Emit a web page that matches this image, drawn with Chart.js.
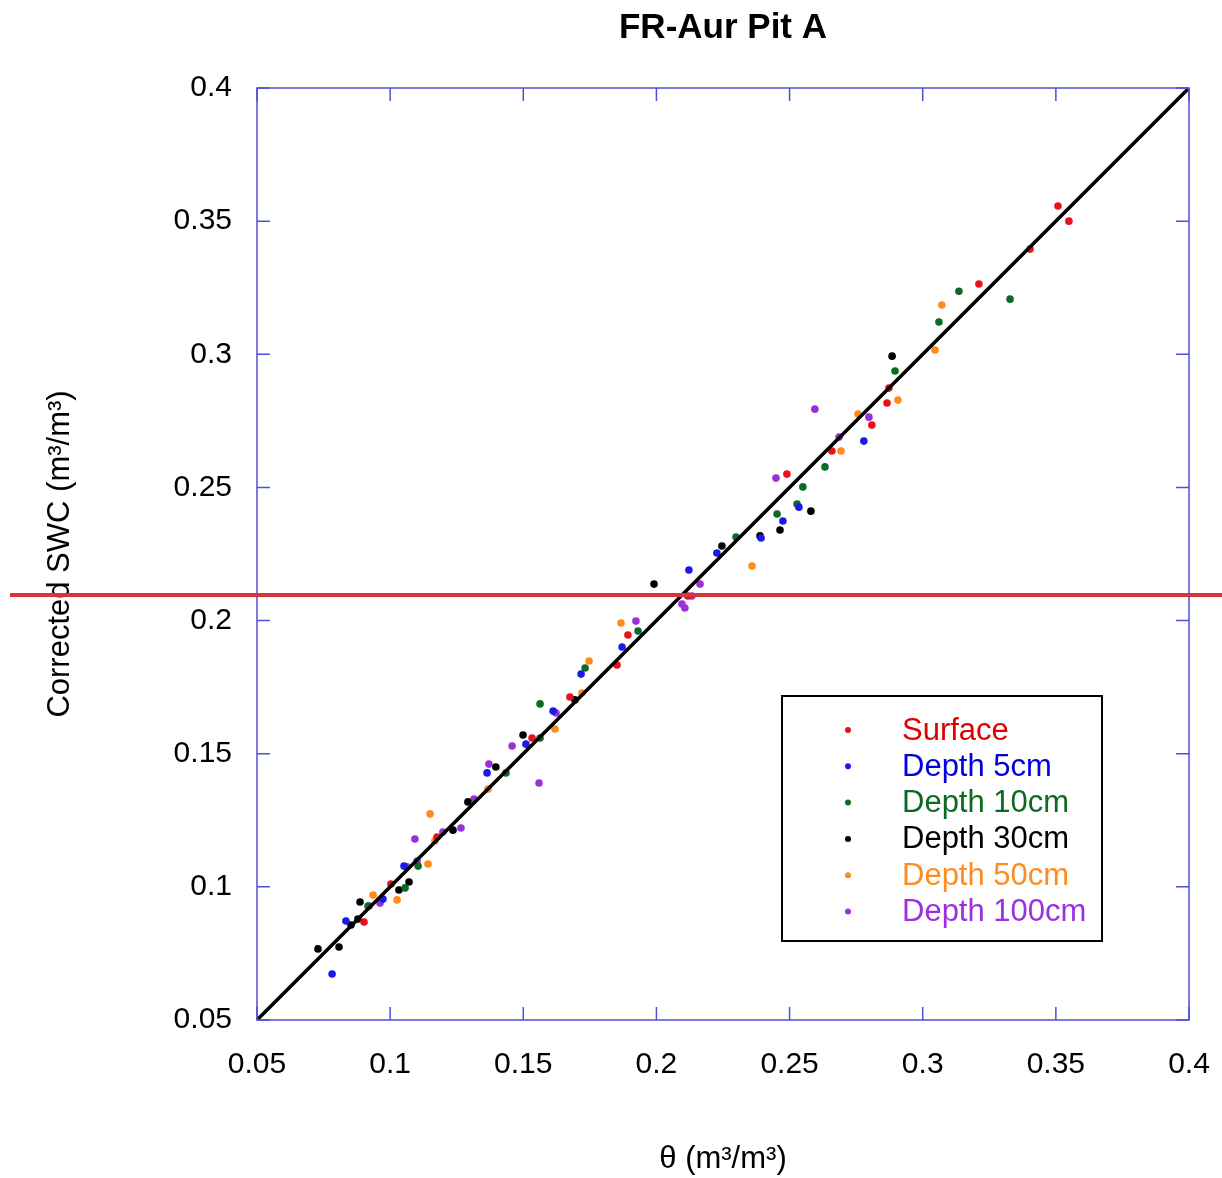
<!DOCTYPE html>
<html>
<head>
<meta charset="utf-8">
<script src="https://cdn.jsdelivr.net/npm/chart.js@4/dist/chart.umd.min.js"></script>
<style>
  html, body { margin: 0; padding: 0; background: #ffffff; }
  #wrap { width: 1222px; height: 1178px; }
</style>
</head>
<body>
<div id="wrap"><canvas id="c" width="1222" height="1178"></canvas></div>
<script>
// ---- data ----
const seriesNames = ['Surface', 'Depth 5cm', 'Depth 10cm', 'Depth 30cm', 'Depth 50cm', 'Depth 100cm'];

const surfaceX = [0.3508,0.3549,0.3403,0.3211,0.2873,0.2866,0.2809,0.2659,0.2490,0.2118,0.1893,0.1852,0.1675,0.1533,0.1176,0.1003,0.0902];
const surfaceY = [0.3557,0.3500,0.3395,0.3264,0.2873,0.2817,0.2734,0.2637,0.2550,0.2092,0.1946,0.1833,0.1713,0.1559,0.1187,0.1011,0.0868];

const depth5X = [0.2779,0.2535,0.2475,0.2393,0.2227,0.2122,0.1871,0.1717,0.1612,0.1510,0.1364,0.1052,0.0973,0.0834,0.0782];
const depth5Y = [0.2674,0.2426,0.2374,0.2310,0.2254,0.2190,0.1901,0.1799,0.1660,0.1536,0.1428,0.1078,0.0954,0.0872,0.0673];

const depth10X = [0.3328,0.3136,0.3061,0.2896,0.2633,0.2550,0.2528,0.2453,0.2299,0.1931,0.1732,0.1563,0.1563,0.1435,0.1105,0.1056,0.0917];
const depth10Y = [0.3207,0.3237,0.3121,0.2937,0.2577,0.2502,0.2438,0.2400,0.2314,0.1961,0.1822,0.1687,0.1559,0.1428,0.1078,0.0996,0.0928];

const depth30X = [0.2885,0.2580,0.2464,0.2389,0.2246,0.1991,0.1694,0.1499,0.1397,0.1292,0.1236,0.1071,0.1033,0.0887,0.0879,0.0853,0.0808,0.0729];
const depth30Y = [0.2993,0.2411,0.2340,0.2318,0.2280,0.2137,0.1702,0.1570,0.1450,0.1319,0.1213,0.1018,0.0988,0.0943,0.0879,0.0857,0.0774,0.0767];

const depth50X = [0.3072,0.3046,0.2907,0.2757,0.2693,0.2359,0.1867,0.1747,0.1720,0.1619,0.1367,0.1150,0.1168,0.1142,0.1026,0.0936];
const depth50Y = [0.3185,0.3016,0.2828,0.2776,0.2637,0.2205,0.1991,0.1848,0.1728,0.1593,0.1367,0.1274,0.1172,0.1086,0.0951,0.0969];

const depth100X = [0.2595,0.2798,0.2686,0.2449,0.2164,0.2133,0.2096,0.2107,0.1923,0.1623,0.1458,0.1371,0.1559,0.1315,0.1266,0.1198,0.1093,0.1101,0.1063,0.0962,0.0921];
const depth100Y = [0.2794,0.2764,0.2689,0.2535,0.2137,0.2092,0.2062,0.2047,0.1998,0.1653,0.1529,0.1461,0.1390,0.1330,0.1221,0.1206,0.1180,0.1097,0.1075,0.0939,0.0928];

const oneToOne = [0.05, 0.4];          // 1:1 line end values
const refLineY = [0.2096];             // red horizontal marker line
const axisTicks = [0.05, 0.1, 0.15, 0.2, 0.25, 0.3, 0.35, 0.4];
const tickLabels = ['0.05', '0.1', '0.15', '0.2', '0.25', '0.3', '0.35', '0.4'];

// ---- styles ----
const pointColors = ['#e8121a', '#1a1ae6', '#0b6b24', '#000000', '#ff8c1a', '#9b30d9'];
const legendTextColors = ['#e00000', '#0000e0', '#0b6b1f', '#000000', '#ff8c1f', '#9b30e0'];
const FONT = '"Liberation Sans", Arial, sans-serif';
const frameColor = '#4f4fd8';

const xsAll = [surfaceX, depth5X, depth10X, depth30X, depth50X, depth100X];
const ysAll = [surfaceY, depth5Y, depth10Y, depth30Y, depth50Y, depth100Y];

const datasets = seriesNames.map((name, i) => ({
  type: 'scatter',
  label: name,
  data: xsAll[i].map((x, k) => ({ x: x, y: ysAll[i][k] })),
  backgroundColor: pointColors[i],
  borderColor: pointColors[i],
  borderWidth: 0,
  pointRadius: 3.8,
  pointHoverRadius: 3.8,
  order: 1
}));

datasets.push({
  type: 'line',
  label: '1:1',
  data: [{ x: oneToOne[0], y: oneToOne[0] }, { x: oneToOne[1], y: oneToOne[1] }],
  borderColor: '#000000',
  borderWidth: 3.5,
  pointRadius: 0,
  fill: false,
  order: 0
});

function fmtTick(v) {
  const idx = axisTicks.findIndex(t => Math.abs(t - v) < 1e-9);
  return idx >= 0 ? tickLabels[idx] : '';
}

const framePlugin = {
  id: 'frame',
  afterDatasetsDraw(chart) {
    const { ctx, chartArea: a, scales } = chart;
    ctx.save();
    ctx.strokeStyle = frameColor;
    ctx.lineWidth = 1.5;
    ctx.strokeRect(a.left, a.top, a.right - a.left, a.bottom - a.top);
    const L = 13;
    ctx.beginPath();
    axisTicks.forEach(t => {
      const px = scales.x.getPixelForValue(t);
      const py = scales.y.getPixelForValue(t);
      ctx.moveTo(px, a.bottom); ctx.lineTo(px, a.bottom - L);
      ctx.moveTo(px, a.top); ctx.lineTo(px, a.top + L);
      ctx.moveTo(a.left, py); ctx.lineTo(a.left + L, py);
      ctx.moveTo(a.right, py); ctx.lineTo(a.right - L, py);
    });
    ctx.stroke();
    ctx.restore();
  }
};

const legendPlugin = {
  id: 'boxLegend',
  afterDatasetsDraw(chart) {
    const { ctx, chartArea: a } = chart;
    const left = a.right - 407, top = a.top + 608, w = 320, h = 245;
    ctx.save();
    ctx.fillStyle = '#ffffff';
    ctx.fillRect(left, top, w, h);
    ctx.strokeStyle = '#000000';
    ctx.lineWidth = 2;
    ctx.strokeRect(left, top, w, h);
    ctx.font = '31px ' + FONT;
    ctx.textBaseline = 'middle';
    ctx.textAlign = 'left';
    seriesNames.forEach((name, i) => {
      const y = top + 34 + i * 36.3;
      ctx.fillStyle = pointColors[i];
      ctx.beginPath();
      ctx.arc(left + 66, y, 3, 0, Math.PI * 2);
      ctx.fill();
      ctx.fillStyle = legendTextColors[i];
      ctx.fillText(name, left + 120, y + 1);
    });
    ctx.restore();
  }
};

const refLinePlugin = {
  id: 'refLine',
  afterDraw(chart) {
    const { ctx, scales, width } = chart;
    ctx.save();
    ctx.strokeStyle = '#d8343c';
    ctx.lineWidth = 4;
    refLineY.forEach(v => {
      const py = scales.y.getPixelForValue(v);
      ctx.beginPath();
      ctx.moveTo(10, py);
      ctx.lineTo(width, py);
      ctx.stroke();
    });
    ctx.restore();
  }
};

new Chart(document.getElementById('c'), {
  data: { datasets: datasets },
  options: {
    responsive: false,
    animation: false,
    devicePixelRatio: 1,
    layout: { padding: { left: 0, right: 33, top: 0, bottom: 0 } },
    plugins: {
      legend: { display: false },
      tooltip: { enabled: false },
      title: {
        display: true,
        text: 'FR-Aur Pit A',
        fullSize: false,
        color: '#000000',
        font: { family: FONT, size: 35, weight: 'bold' },
        padding: { top: 7, bottom: 39 }
      }
    },
    scales: {
      x: {
        type: 'linear',
        position: 'bottom',
        min: 0.05, max: 0.4,
        afterBuildTicks(scale) { scale.ticks = axisTicks.map(v => ({ value: v })); },
        afterFit(scale) { scale.height = 158; scale.paddingLeft = 0; scale.paddingRight = 0; },
        grid: { display: false, drawTicks: false },
        border: { display: false },
        ticks: {
          padding: 27,
          color: '#000000',
          font: { family: FONT, size: 30 },
          maxRotation: 0,
          autoSkip: false,
          callback: fmtTick
        },
        title: {
          display: true,
          text: 'θ (m³/m³)',
          color: '#000000',
          font: { family: FONT, size: 31 },
          padding: { top: 0, bottom: 0 }
        }
      },
      y: {
        type: 'linear',
        position: 'left',
        min: 0.05, max: 0.4,
        afterBuildTicks(scale) { scale.ticks = axisTicks.map(v => ({ value: v })); },
        afterFit(scale) { scale.width = 257; scale.paddingTop = 0; scale.paddingBottom = 0; },
        grid: { display: false, drawTicks: false },
        border: { display: false },
        ticks: {
          padding: 25,
          color: '#000000',
          font: { family: FONT, size: 30 },
          autoSkip: false,
          callback: fmtTick
        },
        title: {
          display: true,
          text: 'Corrected SWC (m³/m³)',
          color: '#000000',
          font: { family: FONT, size: 31 },
          padding: { top: 42, bottom: 0 }
        }
      }
    }
  },
  plugins: [framePlugin, legendPlugin, refLinePlugin]
});
</script>
</body>
</html>
